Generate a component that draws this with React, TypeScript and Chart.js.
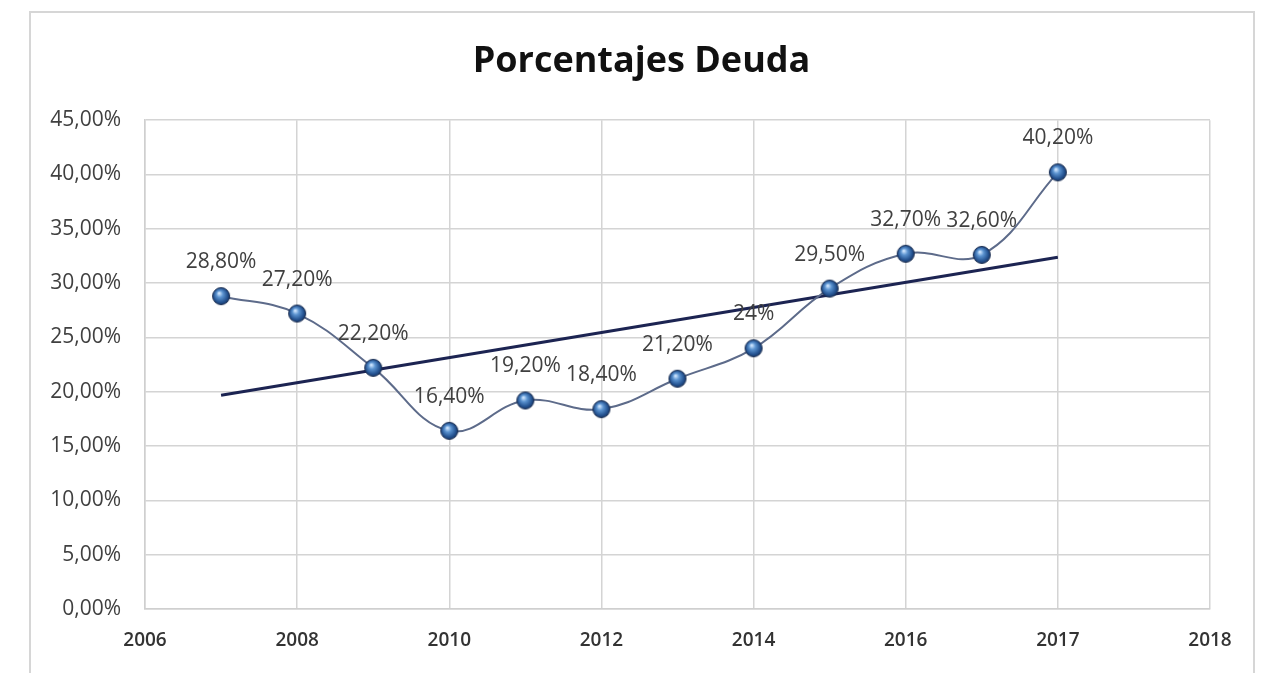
import React, { useEffect, useRef } from "react";
import { Chart, registerables } from "chart.js";

Chart.register(...registerables);

// ---- data ----
const years = [2007, 2008, 2009, 2010, 2011, 2012, 2013, 2014, 2015, 2016, 2017, 2018];
const deuda = [28.8, 27.2, 22.2, 16.4, 19.2, 18.4, 21.2, 24, 29.5, 32.7, 32.6, 40.2];
const trendX = [2007, 2018];
const trendY = [19.68, 32.38];
const xTickLabels = ["2006", "2008", "2010", "2012", "2014", "2016", "2017", "2018"];
const yTicks = [0, 5, 10, 15, 20, 25, 30, 35, 40, 45];
const title = "Porcentajes Deuda";

const FONT = "'Open Sans', 'DejaVu Sans', sans-serif";

function fmtLabel(v: number): string {
  if (Number.isInteger(v)) return `${v}%`;
  return `${v.toFixed(2).replace(".", ",")}%`;
}

function makeSphere(): HTMLCanvasElement {
  const c = document.createElement("canvas");
  c.width = 20;
  c.height = 20;
  const ctx = c.getContext("2d")!;
  const g = ctx.createRadialGradient(8, 7, 0.5, 10, 10, 10);
  g.addColorStop(0, "#cfe6ff");
  g.addColorStop(0.3, "#5b93d0");
  g.addColorStop(0.7, "#23518f");
  g.addColorStop(1, "#142c55");
  ctx.beginPath();
  ctx.arc(10, 10, 8.5, 0, Math.PI * 2);
  ctx.fillStyle = g;
  ctx.fill();
  ctx.lineWidth = 1;
  ctx.strokeStyle = "#1a2d50";
  ctx.stroke();
  return c;
}

const labelPlugin = {
  id: "pointLabels",
  afterDatasetsDraw(chart: any) {
    const meta = chart.getDatasetMeta(0);
    const ctx = chart.ctx;
    ctx.save();
    ctx.font = `21px ${FONT}`;
    ctx.fillStyle = "#404040";
    ctx.textAlign = "center";
    ctx.textBaseline = "middle";
    meta.data.forEach((pt: any, i: number) => {
      ctx.fillText(fmtLabel(deuda[i]), pt.x, pt.y - 34);
    });
    ctx.restore();
  },
};

export default function App() {
  const ref = useRef<HTMLCanvasElement>(null);

  useEffect(() => {
    if (!ref.current) return;
    const sphere = makeSphere();
    const chart = new Chart(ref.current, {
      type: "line",
      data: {
        datasets: [
          {
            label: "Deuda",
            data: years.map((x, i) => ({ x, y: deuda[i] })),
            borderColor: "#5d6b8a",
            borderWidth: 2,
            tension: 0.4,
            pointStyle: sphere as any,
            pointRadius: 9,
            fill: false,
            order: 1,
          },
          {
            label: "Tendencia",
            data: trendX.map((x, i) => ({ x, y: trendY[i] })),
            borderColor: "#1c2452",
            borderWidth: 3,
            pointRadius: 0,
            tension: 0,
            fill: false,
            order: 2,
          },
        ],
      },
      options: {
        animation: false,
        responsive: false,
        layout: { padding: { left: 18, right: 0, top: 0, bottom: 0 } },
        plugins: {
          legend: { display: false },
          tooltip: { enabled: false },
          title: {
            display: true,
            text: title,
            color: "#111111",
            font: { family: FONT, size: 36, weight: "bold" },
            padding: { top: 40, bottom: 37 },
          },
        },
        scales: {
          x: {
            type: "linear",
            min: 2006,
            max: 2020,
            afterFit: (s: any) => {
              s.height = 64;
            },
            afterBuildTicks: (s: any) => {
              s.ticks = xTickLabels.map((_, i) => ({ value: 2006 + i * 2 }));
            },
            ticks: {
              callback: (v: any) => xTickLabels[Math.round((Number(v) - 2006) / 2)] ?? "",
              font: { family: FONT, size: 19, weight: "600" },
              color: "#333333",
              padding: 20,
              maxRotation: 0,
              autoSkip: false,
            },
            grid: { color: "#d4d4d4", lineWidth: 1.5, drawTicks: false },
            border: { color: "#cfcfcf", width: 1.5 },
          },
          y: {
            min: 0,
            max: 45,
            afterFit: (s: any) => {
              s.width = 127;
            },
            afterBuildTicks: (s: any) => {
              s.ticks = yTicks.map((v) => ({ value: v }));
            },
            ticks: {
              callback: (v: any) => `${Number(v).toFixed(2).replace(".", ",")}%`,
              font: { family: FONT, size: 21 },
              color: "#404040",
              padding: 24,
            },
            grid: { color: "#d4d4d4", lineWidth: 1.5, drawTicks: false },
            border: { color: "#cfcfcf", width: 1.5 },
          },
          yRight: {
            position: "right",
            min: 0,
            max: 45,
            afterFit: (s: any) => {
              s.width = 55;
            },
            ticks: { display: false },
            grid: { display: false, drawTicks: false },
            border: { display: false },
          },
        },
      },
      plugins: [labelPlugin],
    });
    return () => chart.destroy();
  }, []);

  return (
    <div
      style={{
        position: "absolute",
        left: 0,
        top: 0,
        width: 1265,
        height: 673,
        background: "#ffffff",
        overflow: "hidden",
      }}
    >
      <div
        style={{
          position: "absolute",
          left: 29,
          top: 11,
          width: 1222,
          height: 700,
          border: "2px solid #d6d6d6",
        }}
      />
      <canvas
        ref={ref}
        width={1265}
        height={673}
        style={{ position: "absolute", left: 0, top: 0, width: 1265, height: 673 }}
      />
    </div>
  );
}
